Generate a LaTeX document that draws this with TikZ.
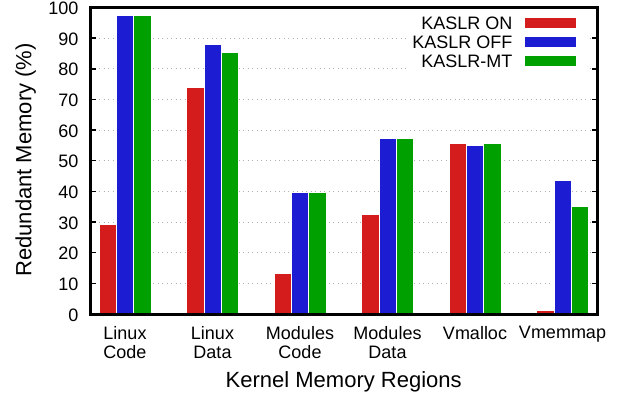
\documentclass[tikz,border=0pt]{standalone}
\usepackage{fontspec}
\setmainfont{Liberation Sans}

\definecolor{kaslron}{RGB}{212,28,28}
\definecolor{kaslroff}{RGB}{28,28,210}
\definecolor{kaslrmt}{RGB}{0,160,0}
\definecolor{gridgray}{RGB}{175,175,175}

\tikzset{
  barbox/.style={draw=white, line width=0.6pt},
  gridline/.style={gridgray, line width=0.9pt, dash pattern=on 1pt off 3.5pt},
  plotframe/.style={line width=3pt},
  tickmark/.style={line width=1.5pt},
  ticklab/.style={anchor=east, inner sep=0pt, font=\fontsize{18}{19.5}\selectfont},
  xlab/.style={anchor=north, inner sep=0pt, align=center, font=\fontsize{18}{19.5}\selectfont},
  axislab/.style={anchor=base, inner sep=0pt, font=\fontsize{22}{24}\selectfont},
  legtext/.style={anchor=east, inner sep=0pt, font=\fontsize{18}{19.5}\selectfont}
}

\begin{document}
\begin{tikzpicture}[x=1pt, y=1pt]
  \useasboundingbox (0,0) rectangle (623,399);

  % data area: 0..100 % mapped onto the frame height
  \begin{scope}[yshift=85pt, y=3.065pt]
    \foreach \v in {0,10,...,90}
      \draw[gridline] (90,\v) -- (597.5,\v);
  \end{scope}

  % legend sits on a white patch over the grid
  \fill[white] (410,327) rectangle (588,389);

  \begin{scope}[yshift=85pt, y=3.065pt]
    % group centre / KASLR ON / KASLR OFF / KASLR-MT
    \foreach \c/\r/\b/\g in {125/29.2/97.6/97.6, 212.5/74.1/88.0/85.3,
                             300/13.2/39.7/39.7, 387.5/32.5/57.4/57.2,
                             475/55.6/55.2/55.6, 562.5/0.8/43.5/35.3}
    {
      \draw[barbox, fill=kaslron]  (\c-26,0)  rectangle (\c-8.7,\r);
      \draw[barbox, fill=kaslroff] (\c-8.7,0) rectangle (\c+8.7,\b);
      \draw[barbox, fill=kaslrmt]  (\c+8.7,0) rectangle (\c+26,\g);
    }
    % the almost empty Vmemmap bar still shows as a thin strip
    \fill[kaslron] (536.6,0) rectangle (553.7,0.9);
    \foreach \v in {0,10,...,100}
    {
      \draw[tickmark] (90,\v) -- ++(6,0);
      \draw[tickmark] (597.5,\v) -- ++(-6,0);
      \node[ticklab] (y\v) at (78.5,\v-0.3) {\v};
    }
  \end{scope}

  \draw[plotframe] (90,85) rectangle (597.5,391.5);

  % legend
  \node[legtext] (legon)  at (512.5,376) {KASLR ON};
  \node[legtext] (legoff) at (512.5,357) {KASLR OFF};
  \node[legtext] (legmt)  at (512.5,338) {KASLR-MT};
  \draw[barbox, fill=kaslron]  (524,370.7) rectangle (576,381.3);
  \draw[barbox, fill=kaslroff] (524,351.7) rectangle (576,362.3);
  \draw[barbox, fill=kaslrmt]  (524,332.7) rectangle (576,343.3);

  % region names under the bars
  \node[xlab] (lcode) at (125,73)   {Linux\\Code};
  \node[xlab] (ldata) at (212.5,73) {Linux\\Data};
  \node[xlab] (mcode) at (300,73)   {Modules\\Code};
  \node[xlab] (mdata) at (387.5,73) {Modules\\Data};
  \node[xlab] (vmall) at (475,73)   {Vmalloc};
  \node[xlab] (vmemm) at (562.5,73) {Vmemmap};

  \node[axislab] (xtitle) at (343.7,11.5) {Kernel Memory Regions};
  \node[axislab, rotate=90] (ytitle) at (31.5,239) {Redundant Memory (\%)};
\end{tikzpicture}
\end{document}
